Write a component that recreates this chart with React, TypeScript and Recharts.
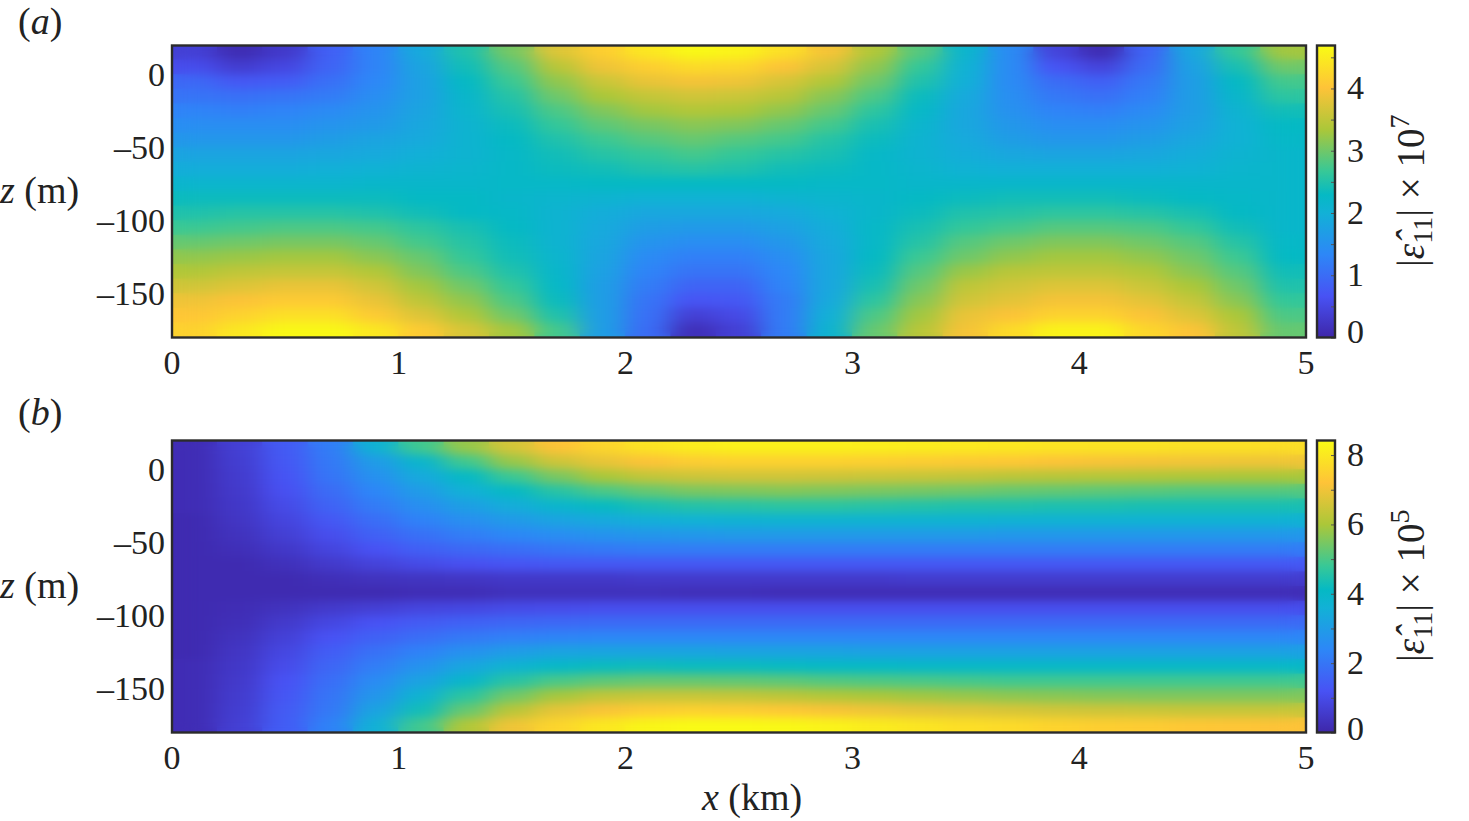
/**
 * Two |e11| heat maps (x against z) with colour bars, drawn with Recharts scatter cells.
 */

import { ScatterChart, Scatter, XAxis, YAxis, BarChart, Bar } from 'recharts'

const xCenters = [0.1, 0.3, 0.5, 0.7, 0.9, 1.1, 1.3, 1.5, 1.7, 1.9, 2.1, 2.3, 2.5, 2.7, 2.9, 3.1, 3.3, 3.5, 3.7, 3.9, 4.1, 4.3, 4.5, 4.7, 4.9]
const zCenters = [15, 5, -5, -15, -25, -35, -45, -55, -65, -75, -85, -95, -105, -115, -125, -135, -145, -155, -165, -175]
const xTicks = [0, 1, 2, 3, 4, 5]
const zTicks = [0, -50, -100, -150]

const panelAValues = [
  [0.4, 0.1, 0.3, 0.85, 1.3, 1.9, 2.5, 3.05, 3.75, 4.15, 4.45, 4.65, 4.6, 4.35, 3.95, 3.4, 2.85, 2.15, 1.4, 0.45, 0.1, 0.9, 1.85, 2.65, 3.3],
  [0.6, 0.35, 0.5, 0.9, 1.3, 1.8, 2.4, 2.85, 3.45, 3.9, 4.15, 4.3, 4.25, 4.0, 3.7, 3.2, 2.65, 2.05, 1.4, 0.7, 0.45, 1.0, 1.75, 2.45, 3.0],
  [0.95, 0.75, 0.8, 1.05, 1.35, 1.75, 2.3, 2.7, 3.2, 3.6, 3.85, 3.95, 3.9, 3.7, 3.4, 3.0, 2.5, 2.0, 1.4, 1.0, 0.85, 1.15, 1.7, 2.3, 2.75],
  [1.1, 1.05, 1.1, 1.2, 1.45, 1.75, 2.2, 2.55, 3.0, 3.35, 3.55, 3.65, 3.6, 3.45, 3.15, 2.8, 2.35, 1.9, 1.45, 1.15, 1.05, 1.25, 1.7, 2.2, 2.6],
  [1.3, 1.25, 1.3, 1.4, 1.55, 1.8, 2.15, 2.45, 2.8, 3.1, 3.3, 3.4, 3.35, 3.2, 2.95, 2.6, 2.25, 1.85, 1.5, 1.3, 1.25, 1.4, 1.7, 2.1, 2.4],
  [1.45, 1.45, 1.45, 1.55, 1.65, 1.85, 2.1, 2.35, 2.65, 2.9, 3.05, 3.15, 3.1, 2.95, 2.75, 2.45, 2.15, 1.85, 1.6, 1.45, 1.45, 1.55, 1.75, 2.05, 2.3],
  [1.6, 1.6, 1.6, 1.7, 1.8, 1.9, 2.1, 2.3, 2.5, 2.7, 2.85, 2.95, 2.85, 2.75, 2.55, 2.35, 2.1, 1.9, 1.7, 1.6, 1.6, 1.7, 1.85, 2.05, 2.25],
  [1.8, 1.8, 1.8, 1.85, 1.9, 2.0, 2.1, 2.25, 2.4, 2.55, 2.65, 2.75, 2.65, 2.55, 2.45, 2.25, 2.1, 1.95, 1.85, 1.8, 1.8, 1.85, 1.95, 2.1, 2.2],
  [1.95, 1.95, 1.95, 2.0, 2.05, 2.1, 2.15, 2.25, 2.35, 2.4, 2.5, 2.55, 2.5, 2.4, 2.35, 2.25, 2.15, 2.05, 2.0, 2.0, 2.0, 2.0, 2.05, 2.15, 2.2],
  [2.15, 2.15, 2.15, 2.15, 2.2, 2.2, 2.2, 2.25, 2.25, 2.3, 2.3, 2.3, 2.3, 2.3, 2.25, 2.25, 2.2, 2.2, 2.2, 2.2, 2.2, 2.2, 2.2, 2.2, 2.2],
  [2.35, 2.35, 2.35, 2.35, 2.35, 2.3, 2.3, 2.2, 2.15, 2.1, 2.05, 2.05, 2.05, 2.1, 2.15, 2.2, 2.3, 2.35, 2.4, 2.4, 2.4, 2.35, 2.3, 2.25, 2.2],
  [2.5, 2.55, 2.55, 2.55, 2.5, 2.4, 2.3, 2.25, 2.1, 1.95, 1.85, 1.85, 1.85, 1.9, 2.05, 2.2, 2.35, 2.5, 2.55, 2.6, 2.6, 2.55, 2.45, 2.3, 2.2],
  [2.7, 2.75, 2.8, 2.8, 2.75, 2.6, 2.45, 2.3, 2.1, 1.9, 1.7, 1.65, 1.65, 1.75, 1.95, 2.25, 2.45, 2.65, 2.75, 2.85, 2.85, 2.8, 2.65, 2.4, 2.2],
  [2.95, 3.0, 3.05, 3.05, 2.95, 2.75, 2.55, 2.35, 2.1, 1.85, 1.55, 1.45, 1.45, 1.6, 1.9, 2.25, 2.55, 2.85, 3.0, 3.1, 3.1, 3.0, 2.85, 2.55, 2.25],
  [3.2, 3.25, 3.3, 3.3, 3.15, 2.95, 2.65, 2.4, 2.15, 1.8, 1.4, 1.25, 1.25, 1.45, 1.85, 2.3, 2.7, 3.0, 3.2, 3.3, 3.3, 3.2, 3.0, 2.7, 2.3],
  [3.4, 3.5, 3.55, 3.55, 3.4, 3.1, 2.8, 2.5, 2.2, 1.75, 1.3, 1.1, 1.1, 1.35, 1.85, 2.35, 2.85, 3.25, 3.45, 3.5, 3.5, 3.4, 3.15, 2.85, 2.4],
  [3.65, 3.75, 3.85, 3.85, 3.65, 3.3, 3.0, 2.65, 2.25, 1.7, 1.2, 0.9, 0.9, 1.3, 1.85, 2.45, 3.0, 3.5, 3.65, 3.75, 3.75, 3.6, 3.35, 3.0, 2.5],
  [3.9, 4.0, 4.1, 4.1, 3.85, 3.5, 3.2, 2.8, 2.35, 1.7, 1.1, 0.7, 0.75, 1.2, 1.9, 2.6, 3.15, 3.65, 3.8, 3.95, 3.95, 3.8, 3.55, 3.15, 2.65],
  [4.05, 4.2, 4.35, 4.35, 4.1, 3.75, 3.4, 3.0, 2.5, 1.7, 1.05, 0.4, 0.55, 1.2, 2.0, 2.8, 3.3, 3.85, 4.0, 4.2, 4.2, 4.0, 3.75, 3.35, 2.8],
  [4.2, 4.45, 4.65, 4.65, 4.45, 4.1, 3.7, 3.3, 2.75, 1.7, 1.0, 0.15, 0.4, 1.2, 2.1, 2.95, 3.45, 3.95, 4.3, 4.6, 4.6, 4.25, 4.0, 3.5, 2.95],
]

const panelBValues = [
  [0.2, 0.7, 1.4, 2.2, 3.7, 4.9, 5.8, 6.6, 7.2, 7.6, 7.9, 8.1, 8.2, 8.2, 8.2, 8.15, 8.1, 8.05, 8.0, 7.95, 7.9, 7.9, 7.85, 7.85, 7.8],
  [0.2, 0.65, 1.35, 2.1, 3.0, 3.9, 4.9, 5.8, 6.5, 6.9, 7.2, 7.4, 7.5, 7.5, 7.5, 7.45, 7.4, 7.35, 7.3, 7.2, 7.15, 7.1, 7.05, 7.0, 7.0],
  [0.2, 0.6, 1.25, 2.0, 2.7, 3.4, 4.1, 4.85, 5.5, 6.0, 6.35, 6.5, 6.55, 6.55, 6.5, 6.45, 6.4, 6.35, 6.25, 6.2, 6.15, 6.1, 6.05, 6.0, 6.0],
  [0.2, 0.55, 1.15, 1.8, 2.4, 3.0, 3.6, 4.1, 4.6, 5.0, 5.3, 5.5, 5.55, 5.6, 5.55, 5.5, 5.45, 5.4, 5.3, 5.25, 5.2, 5.15, 5.1, 5.1, 5.1],
  [0.2, 0.5, 1.0, 1.6, 2.15, 2.65, 3.1, 3.5, 3.9, 4.15, 4.4, 4.55, 4.6, 4.65, 4.65, 4.6, 4.55, 4.5, 4.5, 4.45, 4.45, 4.4, 4.4, 4.4, 4.4],
  [0.15, 0.45, 0.85, 1.35, 1.85, 2.3, 2.65, 2.95, 3.2, 3.4, 3.55, 3.65, 3.7, 3.75, 3.75, 3.75, 3.75, 3.75, 3.7, 3.7, 3.7, 3.7, 3.7, 3.7, 3.7],
  [0.15, 0.35, 0.7, 1.1, 1.55, 1.9, 2.2, 2.45, 2.6, 2.75, 2.85, 2.9, 2.95, 2.95, 2.95, 2.95, 2.95, 2.95, 2.9, 2.9, 2.9, 2.9, 2.9, 2.9, 2.9],
  [0.15, 0.25, 0.5, 0.85, 1.2, 1.5, 1.7, 1.85, 2.0, 2.1, 2.15, 2.15, 2.15, 2.15, 2.15, 2.15, 2.15, 2.15, 2.15, 2.15, 2.15, 2.15, 2.15, 2.15, 2.15],
  [0.15, 0.15, 0.3, 0.55, 0.8, 1.0, 1.15, 1.25, 1.35, 1.35, 1.35, 1.35, 1.35, 1.35, 1.35, 1.35, 1.35, 1.35, 1.35, 1.35, 1.35, 1.35, 1.35, 1.35, 1.35],
  [0.15, 0.15, 0.15, 0.25, 0.35, 0.4, 0.45, 0.5, 0.5, 0.5, 0.55, 0.55, 0.55, 0.55, 0.55, 0.55, 0.6, 0.6, 0.6, 0.6, 0.6, 0.6, 0.6, 0.6, 0.6],
  [0.15, 0.15, 0.15, 0.15, 0.15, 0.2, 0.2, 0.3, 0.3, 0.3, 0.3, 0.25, 0.25, 0.2, 0.2, 0.2, 0.2, 0.2, 0.2, 0.2, 0.2, 0.2, 0.2, 0.2, 0.2],
  [0.15, 0.2, 0.35, 0.55, 0.7, 0.85, 0.9, 1.0, 1.05, 1.1, 1.1, 1.1, 1.1, 1.1, 1.1, 1.1, 1.1, 1.1, 1.1, 1.1, 1.1, 1.1, 1.1, 1.1, 1.1],
  [0.15, 0.25, 0.55, 0.9, 1.2, 1.4, 1.55, 1.65, 1.7, 1.75, 1.75, 1.75, 1.75, 1.75, 1.75, 1.75, 1.75, 1.75, 1.75, 1.75, 1.75, 1.75, 1.75, 1.75, 1.75],
  [0.15, 0.35, 0.75, 1.2, 1.55, 1.85, 2.1, 2.25, 2.35, 2.4, 2.4, 2.4, 2.4, 2.4, 2.4, 2.4, 2.4, 2.4, 2.4, 2.4, 2.4, 2.4, 2.4, 2.4, 2.4],
  [0.15, 0.45, 0.9, 1.45, 1.9, 2.3, 2.7, 3.0, 3.2, 3.25, 3.25, 3.25, 3.2, 3.2, 3.2, 3.15, 3.15, 3.15, 3.15, 3.15, 3.15, 3.15, 3.15, 3.15, 3.15],
  [0.2, 0.5, 1.05, 1.65, 2.2, 2.75, 3.3, 3.75, 4.05, 4.2, 4.25, 4.2, 4.2, 4.15, 4.1, 4.1, 4.05, 4.05, 4.05, 4.05, 4.05, 4.05, 4.05, 4.05, 4.05],
  [0.2, 0.55, 1.2, 1.85, 2.55, 3.2, 3.95, 4.6, 5.0, 5.2, 5.3, 5.3, 5.25, 5.2, 5.1, 5.05, 5.0, 4.95, 4.9, 4.9, 4.9, 4.9, 4.9, 4.9, 4.9],
  [0.2, 0.6, 1.3, 2.0, 2.85, 3.75, 4.65, 5.4, 5.95, 6.3, 6.4, 6.4, 6.35, 6.25, 6.1, 6.0, 5.9, 5.8, 5.7, 5.65, 5.6, 5.55, 5.55, 5.55, 5.55],
  [0.2, 0.65, 1.4, 2.1, 3.2, 4.3, 5.3, 6.2, 6.85, 7.15, 7.4, 7.5, 7.4, 7.3, 7.15, 7.0, 6.85, 6.75, 6.65, 6.55, 6.5, 6.45, 6.4, 6.4, 6.4],
  [0.2, 0.7, 1.45, 2.3, 3.6, 4.9, 6.1, 7.0, 7.6, 8.0, 8.3, 8.4, 8.4, 8.35, 8.25, 8.1, 7.95, 7.8, 7.7, 7.55, 7.45, 7.4, 7.3, 7.25, 7.2],
]

const barATicks = [0, 0.5, 1, 1.5, 2, 2.5, 3, 3.5, 4, 4.5]
const barBTicks = [0, 1, 2, 3, 4, 5, 6, 7, 8]
const MAX_A = 4.69
const MAX_B = 8.42

// parula, [position, colour]
const RAMP: [number, string][] = [
  [0, '#3e26a8'], [0.143, '#4852f4'], [0.286, '#2d87f7'], [0.429, '#12b1d6'], [0.49, '#05b9c4'],
  [0.571, '#37c897'], [0.714, '#abc739'], [0.857, '#fec338'], [1, '#f9fb15'],
]

const FONT = '"Liberation Serif", "Times New Roman", serif'
const INK = '#222'
const PLOT_LEFT = 172
const PLOT_W = 1134
const PLOT_H = 292
const CELL_W = PLOT_W / xCenters.length + 1
const CELL_H = PLOT_H / zCenters.length + 1

function hex(c: string) {
  return [1, 3, 5].map((i) => parseInt(c.slice(i, i + 2), 16))
}

function colourOf(t: number) {
  const u = Math.max(0, Math.min(1, t))
  for (let i = 1; i < RAMP.length; i++) {
    if (u <= RAMP[i][0]) {
      const [p0, c0] = RAMP[i - 1]
      const [p1, c1] = RAMP[i]
      const f = (u - p0) / (p1 - p0)
      const a = hex(c0)
      const b = hex(c1)
      return `rgb(${a.map((v, k) => Math.round(v + (b[k] - v) * f)).join(',')})`
    }
  }
  return RAMP[RAMP.length - 1][1]
}

function toCells(rows: number[][]) {
  return rows.flatMap((row, r) => row.map((v, c) => ({ x: xCenters[c], z: zCenters[r], v })))
}

const formatZ = (v: number) => (v < 0 ? `–${-v}` : `${v}`)

function Cell(props: any, max: number) {
  const v = props.payload ? props.payload.v : props.v
  return <rect x={props.cx - CELL_W / 2} y={props.cy - CELL_H / 2} width={CELL_W} height={CELL_H} fill={colourOf(v / max)} />
}

interface HeatPanelProps {
  top: number
  plotTop: number
  rows: number[][]
  max: number
  id: string
}

function HeatPanel({ top, plotTop, rows, max, id }: HeatPanelProps) {
  const cells = toCells(rows)
  const height = plotTop - top + PLOT_H + 50
  const tickStyle = { fontSize: 34, fontFamily: FONT, fill: INK }
  return (
    <div style={{ position: 'absolute', left: 0, top }}>
      <ScatterChart width={1320} height={height} margin={{ left: 72, right: 14, top: plotTop - top, bottom: 0 }}>
        <XAxis
          type="number"
          dataKey="x"
          domain={[0, 5]}
          ticks={xTicks}
          height={50}
          tickSize={0}
          tickMargin={12}
          axisLine={false}
          tick={tickStyle}
          interval={0}
        />
        <YAxis
          type="number"
          dataKey="z"
          domain={[-180, 20]}
          ticks={zTicks}
          width={100}
          tickSize={0}
          tickMargin={7}
          axisLine={false}
          tick={{ ...tickStyle, dy: -1 }}
          tickFormatter={formatZ}
          interval={0}
        />
        <Scatter data={cells} className={`heat-${id}`} shape={(p: any) => Cell(p, max)} isAnimationActive={false} />
        <Scatter data={cells} className={`heat-${id} heat-blur`} shape={(p: any) => Cell(p, max)} isAnimationActive={false} />
      </ScatterChart>
    </div>
  )
}

function barTick(zeroShift: number, labelled: (v: number) => boolean) {
  return (props: any) => {
    const { x, y, payload } = props
    const v = payload.value
    return (
      <g>
        <line x1={x - 12} x2={x - 16} y1={y} y2={y} stroke="#555" strokeWidth={1} />
        {labelled(v) && (
          <text x={x} y={v === 0 ? y + zeroShift : y} dy="0.31em" fontSize={34} fontFamily={FONT} fill={INK}>
            {v}
          </text>
        )}
      </g>
    )
  }
}

interface ColourBarProps {
  top: number
  height: number
  max: number
  ticks: number[]
  id: string
  zeroShift: number
  labelled: (v: number) => boolean
}

function ColourBar({ top, height, max, ticks, id, zeroShift, labelled }: ColourBarProps) {
  return (
    <div style={{ position: 'absolute', left: 1300, top: top - 20 }}>
      <BarChart
        width={100}
        height={height + 40}
        data={[{ name: 'bar', v: max }]}
        margin={{ left: 17, right: 17, top: 20, bottom: 20 }}
        barCategoryGap={0}
      >
        <defs>
          <linearGradient id={id} x1="0" y1="1" x2="0" y2="0">
            {RAMP.map(([p, c]) => (
              <stop key={p} offset={p} stopColor={c} />
            ))}
          </linearGradient>
        </defs>
        <XAxis dataKey="name" hide />
        <YAxis
          orientation="right"
          type="number"
          domain={[0, max]}
          ticks={ticks}
          width={48}
          tickSize={0}
          tickMargin={12}
          axisLine={false}
          tickLine={false}
          interval={0}
          tick={barTick(zeroShift, labelled)}
        />
        <Bar dataKey="v" fill={`url(#${id})`} isAnimationActive={false} />
      </BarChart>
    </div>
  )
}

function BarLabel({ x, y, exp }: { x: number; y: number; exp: string }) {
  return (
    <text transform={`translate(${x},${y}) rotate(-90)`} fontSize={39} fontFamily={FONT} fill={INK}>
      |<tspan fontStyle="italic">ε̂</tspan>
      <tspan fontSize={28} dy={8}>11</tspan>
      <tspan dy={-8}>| × 10</tspan>
      <tspan fontSize={28} dy={-15}>{exp}</tspan>
    </text>
  )
}

function AxisWord({ x, y, sym, unit, anchor }: { x: number; y: number; sym: string; unit: string; anchor?: string }) {
  return (
    <text x={x} y={y} fontSize={38} fontFamily={FONT} fill={INK} textAnchor={anchor}>
      <tspan fontStyle="italic">{sym}</tspan> ({unit})
    </text>
  )
}

function Overlay() {
  const frames = [45.5, 440.5]
  return (
    <svg width={1469} height={821} style={{ position: 'absolute', left: 0, top: 0, pointerEvents: 'none' }}>
      <defs>
        <filter id="heatSmooth" x="-5%" y="-15%" width="110%" height="130%" colorInterpolationFilters="sRGB">
          <feGaussianBlur stdDeviation="13 5" />
        </filter>
        <clipPath id="clipA">
          <rect x={PLOT_LEFT} y={45.5} width={PLOT_W} height={PLOT_H} />
        </clipPath>
        <clipPath id="clipB">
          <rect x={PLOT_LEFT} y={40.5} width={PLOT_W} height={PLOT_H} />
        </clipPath>
      </defs>
      {frames.map((y) => (
        <g key={y} fill="none" stroke="#2b2b2b" strokeWidth={2.4}>
          <rect x={PLOT_LEFT} y={y} width={PLOT_W} height={PLOT_H} />
          <rect x={1317} y={y} width={18} height={PLOT_H} />
        </g>
      ))}
      <text x={18} y={34} fontSize={38} fontFamily={FONT} fill={INK}>
        (<tspan fontStyle="italic">a</tspan>)
      </text>
      <text x={18} y={425} fontSize={38} fontFamily={FONT} fill={INK}>
        (<tspan fontStyle="italic">b</tspan>)
      </text>
      <AxisWord x={0} y={203} sym="z" unit="m" />
      <AxisWord x={0} y={598} sym="z" unit="m" />
      <AxisWord x={752} y={810} sym="x" unit="km" anchor="middle" />
      <BarLabel x={1424} y={267} exp="7" />
      <BarLabel x={1424} y={662} exp="5" />
    </svg>
  )
}

export default function App() {
  return (
    <div style={{ position: 'absolute', left: 0, top: 0, width: 1469, height: 821, background: '#fff', overflow: 'hidden' }}>
      <style>{`
        .heat-a { clip-path: url(#clipA); }
        .heat-b { clip-path: url(#clipB); }
        .heat-blur { filter: url(#heatSmooth); }
      `}</style>
      <HeatPanel top={0} plotTop={45.5} rows={panelAValues} max={MAX_A} id="a" />
      <HeatPanel top={400} plotTop={440.5} rows={panelBValues} max={MAX_B} id="b" />
      <ColourBar top={45.5} height={PLOT_H} max={MAX_A} ticks={barATicks} id="rampA" zeroShift={-6} labelled={(v) => Number.isInteger(v)} />
      <ColourBar top={440.5} height={PLOT_H} max={MAX_B} ticks={barBTicks} id="rampB" zeroShift={-4} labelled={(v) => v % 2 === 0} />
      <Overlay />
    </div>
  )
}
